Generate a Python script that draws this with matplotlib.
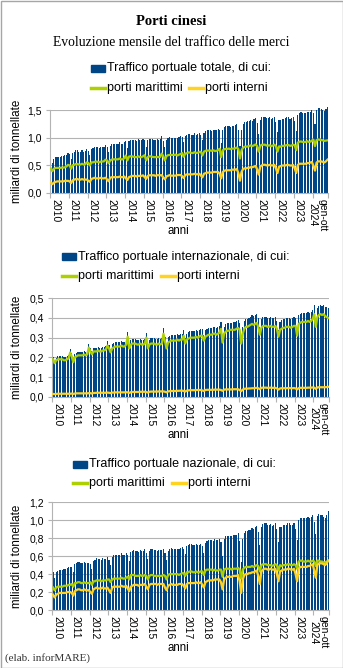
import numpy as np
import matplotlib
matplotlib.use("Agg")
import matplotlib.pyplot as plt
from matplotlib.patches import Rectangle
from matplotlib.lines import Line2D

W, H = 343, 668

anni = ["2010", "2011", "2012", "2013", "2014", "2015", "2016", "2017",
        "2018", "2019", "2020", "2021", "2022", "2023", "gen-ott\n2024"]

# miliardi di tonnellate, mensile gen 2010 - ott 2024 (una riga per anno)
int_marittimi = [
    0.190, 0.170, 0.185, 0.190, 0.190, 0.190, 0.190, 0.185, 0.185, 0.190, 0.195, 0.225,
    0.205, 0.175, 0.200, 0.205, 0.210, 0.210, 0.210, 0.210, 0.215, 0.210, 0.215, 0.250,
    0.230, 0.215, 0.230, 0.230, 0.230, 0.235, 0.230, 0.230, 0.235, 0.235, 0.240, 0.260,
    0.245, 0.225, 0.245, 0.250, 0.255, 0.255, 0.255, 0.255, 0.260, 0.255, 0.255, 0.265,
    0.305, 0.245, 0.265, 0.270, 0.270, 0.270, 0.265, 0.265, 0.270, 0.265, 0.265, 0.270,
    0.300, 0.245, 0.265, 0.270, 0.270, 0.270, 0.265, 0.265, 0.270, 0.265, 0.270, 0.320,
    0.280, 0.245, 0.275, 0.280, 0.285, 0.285, 0.285, 0.285, 0.290, 0.285, 0.290, 0.290,
    0.310, 0.270, 0.290, 0.295, 0.300, 0.300, 0.300, 0.300, 0.305, 0.300, 0.305, 0.310,
    0.310, 0.285, 0.305, 0.310, 0.315, 0.315, 0.315, 0.320, 0.320, 0.315, 0.320, 0.325,
    0.345, 0.275, 0.320, 0.330, 0.335, 0.335, 0.340, 0.340, 0.340, 0.340, 0.345, 0.350,
    0.340, 0.270, 0.320, 0.345, 0.355, 0.355, 0.360, 0.365, 0.370, 0.365, 0.370, 0.375,
    0.355, 0.315, 0.350, 0.360, 0.360, 0.360, 0.355, 0.355, 0.360, 0.355, 0.355, 0.360,
    0.345, 0.305, 0.340, 0.345, 0.350, 0.350, 0.355, 0.355, 0.355, 0.350, 0.355, 0.360,
    0.360, 0.310, 0.370, 0.375, 0.380, 0.380, 0.380, 0.380, 0.385, 0.380, 0.385, 0.395,
    0.420, 0.355, 0.405, 0.415, 0.420, 0.415, 0.420, 0.410, 0.405, 0.400,
]
int_interni = [
    0.014, 0.013, 0.014, 0.015, 0.015, 0.015, 0.015, 0.015, 0.015, 0.015, 0.015, 0.015,
    0.016, 0.014, 0.016, 0.017, 0.017, 0.017, 0.017, 0.017, 0.017, 0.017, 0.017, 0.018,
    0.018, 0.016, 0.019, 0.019, 0.020, 0.020, 0.020, 0.020, 0.020, 0.020, 0.020, 0.021,
    0.020, 0.018, 0.021, 0.021, 0.022, 0.022, 0.022, 0.022, 0.022, 0.022, 0.022, 0.023,
    0.022, 0.019, 0.023, 0.024, 0.024, 0.024, 0.024, 0.024, 0.025, 0.025, 0.025, 0.025,
    0.024, 0.021, 0.025, 0.026, 0.026, 0.026, 0.026, 0.026, 0.027, 0.027, 0.027, 0.027,
    0.025, 0.022, 0.027, 0.028, 0.029, 0.029, 0.029, 0.029, 0.030, 0.030, 0.031, 0.031,
    0.029, 0.026, 0.031, 0.032, 0.033, 0.033, 0.033, 0.033, 0.034, 0.034, 0.034, 0.034,
    0.032, 0.029, 0.034, 0.035, 0.035, 0.035, 0.035, 0.035, 0.036, 0.036, 0.036, 0.036,
    0.034, 0.030, 0.036, 0.037, 0.037, 0.037, 0.037, 0.037, 0.038, 0.038, 0.038, 0.038,
    0.034, 0.028, 0.036, 0.040, 0.041, 0.041, 0.042, 0.042, 0.043, 0.043, 0.044, 0.045,
    0.043, 0.038, 0.045, 0.046, 0.046, 0.046, 0.045, 0.045, 0.046, 0.045, 0.045, 0.045,
    0.042, 0.036, 0.042, 0.043, 0.043, 0.043, 0.043, 0.044, 0.044, 0.043, 0.043, 0.044,
    0.042, 0.037, 0.044, 0.045, 0.045, 0.045, 0.045, 0.045, 0.046, 0.046, 0.046, 0.047,
    0.046, 0.040, 0.047, 0.048, 0.048, 0.048, 0.048, 0.048, 0.049, 0.050,
]
naz_marittimi = [
    0.25, 0.22, 0.25, 0.26, 0.26, 0.26, 0.26, 0.27, 0.27, 0.27, 0.28, 0.28,
    0.29, 0.26, 0.30, 0.30, 0.31, 0.31, 0.30, 0.30, 0.31, 0.30, 0.30, 0.30,
    0.31, 0.28, 0.32, 0.32, 0.33, 0.33, 0.33, 0.32, 0.33, 0.33, 0.33, 0.34,
    0.34, 0.31, 0.34, 0.35, 0.35, 0.35, 0.35, 0.35, 0.36, 0.35, 0.35, 0.36,
    0.37, 0.34, 0.39, 0.39, 0.39, 0.38, 0.38, 0.38, 0.39, 0.38, 0.38, 0.39,
    0.38, 0.34, 0.38, 0.39, 0.39, 0.38, 0.38, 0.38, 0.38, 0.38, 0.38, 0.39,
    0.38, 0.34, 0.39, 0.40, 0.40, 0.40, 0.40, 0.40, 0.40, 0.39, 0.40, 0.41,
    0.41, 0.38, 0.42, 0.42, 0.43, 0.43, 0.42, 0.42, 0.43, 0.42, 0.42, 0.43,
    0.43, 0.39, 0.44, 0.45, 0.45, 0.45, 0.45, 0.44, 0.45, 0.44, 0.44, 0.45,
    0.45, 0.37, 0.45, 0.46, 0.46, 0.46, 0.46, 0.45, 0.46, 0.46, 0.46, 0.47,
    0.45, 0.35, 0.45, 0.47, 0.48, 0.48, 0.48, 0.48, 0.49, 0.48, 0.49, 0.50,
    0.49, 0.43, 0.50, 0.51, 0.51, 0.51, 0.50, 0.50, 0.50, 0.49, 0.50, 0.51,
    0.50, 0.44, 0.50, 0.49, 0.50, 0.50, 0.50, 0.51, 0.51, 0.50, 0.50, 0.51,
    0.50, 0.46, 0.54, 0.55, 0.55, 0.54, 0.54, 0.54, 0.55, 0.54, 0.54, 0.55,
    0.54, 0.49, 0.55, 0.55, 0.54, 0.54, 0.53, 0.53, 0.54, 0.55,
]
naz_interni = [
    0.17, 0.14, 0.17, 0.18, 0.19, 0.19, 0.19, 0.19, 0.19, 0.20, 0.20, 0.20,
    0.19, 0.16, 0.21, 0.22, 0.23, 0.23, 0.22, 0.22, 0.23, 0.22, 0.22, 0.22,
    0.20, 0.18, 0.23, 0.24, 0.25, 0.24, 0.24, 0.24, 0.25, 0.24, 0.24, 0.25,
    0.22, 0.19, 0.25, 0.26, 0.26, 0.26, 0.26, 0.26, 0.27, 0.26, 0.26, 0.27,
    0.24, 0.21, 0.26, 0.27, 0.28, 0.28, 0.28, 0.27, 0.28, 0.28, 0.28, 0.29,
    0.26, 0.23, 0.28, 0.29, 0.29, 0.29, 0.29, 0.28, 0.29, 0.29, 0.29, 0.29,
    0.25, 0.22, 0.27, 0.28, 0.29, 0.28, 0.28, 0.28, 0.28, 0.29, 0.29, 0.29,
    0.27, 0.24, 0.29, 0.30, 0.30, 0.30, 0.30, 0.30, 0.31, 0.30, 0.30, 0.31,
    0.28, 0.25, 0.31, 0.32, 0.33, 0.33, 0.33, 0.33, 0.34, 0.34, 0.34, 0.34,
    0.31, 0.23, 0.34, 0.36, 0.37, 0.37, 0.37, 0.37, 0.38, 0.38, 0.38, 0.39,
    0.32, 0.19, 0.34, 0.39, 0.40, 0.40, 0.41, 0.41, 0.42, 0.42, 0.43, 0.44,
    0.38, 0.29, 0.43, 0.45, 0.46, 0.46, 0.45, 0.45, 0.46, 0.45, 0.45, 0.46,
    0.40, 0.32, 0.43, 0.44, 0.45, 0.45, 0.45, 0.46, 0.46, 0.45, 0.45, 0.46,
    0.40, 0.32, 0.46, 0.48, 0.48, 0.48, 0.48, 0.48, 0.49, 0.49, 0.50, 0.51,
    0.44, 0.36, 0.50, 0.52, 0.52, 0.52, 0.51, 0.50, 0.52, 0.55,
]

BLU = "#004586"
VERDE = "#aecf00"
GIALLO = "#ffd320"
GRIGIO = "#b3b3b3"

plt.rcParams["font.family"] = ["Liberation Sans", "DejaVu Sans"]

int_mar = np.array(int_marittimi)
int_int = np.array(int_interni)
naz_mar = np.array(naz_marittimi)
naz_int = np.array(naz_interni)

# totale = internazionale + nazionale; ogni traffico = marittimi + interni
pannelli = [
    dict(box=(50, 110, 328.3, 192.7), ymax=1.5, step=0.5,
         tot=int_mar + int_int + naz_mar + naz_int, mar=int_mar + naz_mar, inn=int_int + naz_int,
         nome="Traffico portuale totale, di cui:", leg=(90.7, 68.3, 88.3, 189), anni_y=231),
    dict(box=(52.3, 298.3, 329, 396.7), ymax=0.5, step=0.1,
         tot=int_mar + int_int, mar=int_mar, inn=int_int,
         nome="Traffico portuale internazionale, di cui:", leg=(62.3, 256.6, 276.4, 160.7), anni_y=435),
    dict(box=(52.3, 502.3, 329, 610), ymax=1.2, step=0.2,
         tot=naz_mar + naz_int, mar=naz_mar, inn=naz_int,
         nome="Traffico portuale nazionale, di cui:", leg=(72.7, 464, 483.3, 171.7), anni_y=648.3),
]

fig = plt.figure(figsize=(W / 100, H / 100), dpi=100)


def fx(x):
    return x / W


def fy(y):
    return 1 - y / H


n = len(int_marittimi)
x = np.arange(n)

for p in pannelli:
    l, t, r, b = p["box"]
    ax = fig.add_axes([fx(l), fy(b), (r - l) / W, (b - t) / H])
    ax.bar(x, p["tot"], width=0.72, color=BLU, linewidth=0, zorder=2, clip_on=False)
    ax.plot(x, p["mar"], color=VERDE, lw=1.6, zorder=3, solid_joinstyle="round")
    ax.plot(x, p["inn"], color=GIALLO, lw=1.6, zorder=3, solid_joinstyle="round")

    ax.set_xlim(-0.5, n - 0.5)
    ax.set_ylim(0, p["ymax"])
    yt = np.arange(0, p["ymax"] + 1e-9, p["step"])
    ax.set_yticks(yt)
    ax.set_yticklabels([f"{v:.1f}".replace(".", ",") for v in yt])
    ax.yaxis.grid(True, color=GRIGIO, lw=0.8)
    ax.set_axisbelow(True)

    ax.set_xticks(list(np.arange(-0.5, n, 12)) + [n - 0.5])
    ax.set_xticklabels([])
    ax.set_xticks(np.arange(0, n, 12) + 2.7, minor=True)
    ax.set_xticklabels(anni, minor=True, rotation=-90, ha="center", va="top",
                       fontsize=7.5, linespacing=1.0)
    ax.tick_params(axis="x", which="major", length=3.5, color=GRIGIO, width=0.8)
    ax.tick_params(axis="x", which="minor", length=0, pad=4.5)
    ax.tick_params(axis="y", length=3, color=GRIGIO, width=0.8, pad=3, labelsize=7.5)

    for s in ["top", "right"]:
        ax.spines[s].set_visible(False)
    for s in ["left", "bottom"]:
        ax.spines[s].set_color(GRIGIO)
        ax.spines[s].set_linewidth(0.8)

    fig.text(fx(17), fy((t + b) / 2), "miliardi di tonnellate", rotation=90,
             ha="center", va="center", fontsize=8.4)
    fig.text(fx(178), fy(p["anni_y"]), "anni", ha="center", va="center", fontsize=8.3)

    # legenda
    lx, y1, y2, gx = p["leg"]
    fig.add_artist(Rectangle((fx(lx), fy(y1 + 3.5)), 14 / W, 7 / H,
                             transform=fig.transFigure, color=BLU))
    fig.text(fx(lx + 16), fy(y1), p["nome"], ha="left", va="center", fontsize=9)
    fig.add_artist(Line2D([fx(lx), fx(lx + 14)], [fy(y2), fy(y2)],
                          transform=fig.transFigure, color=VERDE, lw=2.5))
    fig.text(fx(lx + 16), fy(y2), "porti marittimi", ha="left", va="center", fontsize=9)
    fig.add_artist(Line2D([fx(gx), fx(gx + 14)], [fy(y2), fy(y2)],
                          transform=fig.transFigure, color=GIALLO, lw=2.5))
    fig.text(fx(gx + 16), fy(y2), "porti interni", ha="left", va="center", fontsize=9)

fig.text(0.5, fy(21.7), "Porti cinesi", ha="center", va="center",
         family="Liberation Serif", fontweight="bold", fontsize=10.5)
fig.text(0.5, fy(42.7), "Evoluzione mensile del traffico delle merci", ha="center",
         va="center", family="Liberation Serif", fontsize=9.8)
fig.text(fx(5), fy(658), "(elab. inforMARE)", ha="left", va="center",
         family="Liberation Serif", fontsize=8, color="#333333")

fig.add_artist(Rectangle((0.5 / W, 0.5 / H), (W - 1) / W, (H - 1) / H,
                         transform=fig.transFigure, fill=False, edgecolor="#a6a6a6", lw=1))

fig.savefig("out.png", dpi=100)
